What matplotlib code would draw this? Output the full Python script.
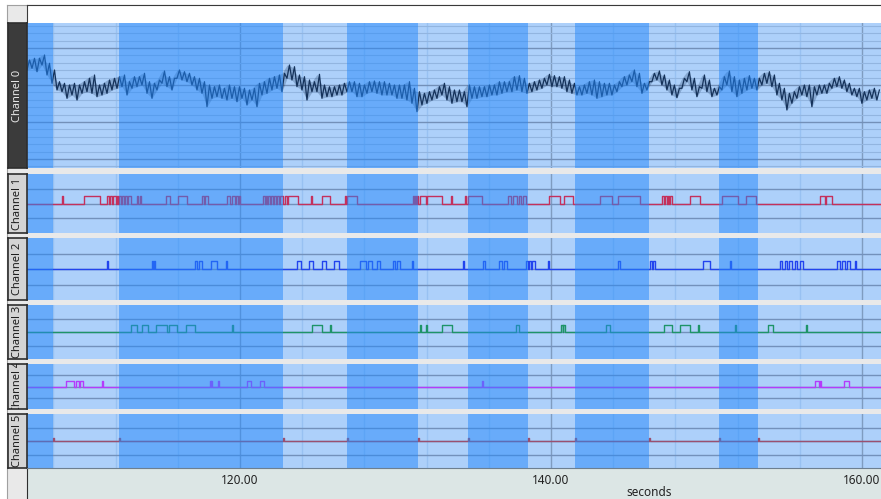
import numpy as np
import matplotlib
matplotlib.use("Agg")
import matplotlib.pyplot as plt
from matplotlib.ticker import MultipleLocator

plt.rcParams['font.family'] = ['Noto Sans', 'DejaVu Sans']

W, H = 881, 499   # output size in pixels

# ---- data -----------------------------------------------------------
t_view = (106.30, 161.22)          # visible time window, seconds

# channel 0: analog trace, min/max per display bin
c0_t0 = 106.30
c0_dt = 0.3215
c0_hi = [99, 100.7, 100.7, 104, 95.7, 89, 77.3, 75.7, 74, 75.7, 74, 77.3, 80.7, 84, 74, 75.7, 79, 80.7, 82.3, 84,
         77.3, 82.3, 82.3, 85.7, 77.3, 75.7, 79, 88, 82.3, 80.7, 89, 87.3, 85.7, 82.3, 80.7, 77.3, 74, 72.3, 74, 70.7,
         74, 72.3, 72.3, 70.7, 69, 70.7, 75.7, 77.3, 80.7, 82.3, 84, 85.7, 94, 92.3, 84, 82.3, 79, 77.3,
         84.7, 74, 72.3, 72.3, 74, 75.7, 77.3, 77.3, 75.7, 74, 77.3, 78, 77.3, 77.3, 75.7, 74, 74, 74, 77.3, 70.7,
         67.3, 65.7, 67.3, 69, 72.3, 75.7, 72.3, 69, 69, 67.3, 74, 72.3, 72.3, 72.3, 74, 74, 77.3, 77.3, 77.3, 82.3,
         83.3, 80.7, 75.7, 77.3, 79, 80.7, 84.7, 83.3, 82.3, 82.3, 79, 75.7, 72.3, 74, 77.3, 79, 77.3,
         75.7, 75.7, 74, 77.3, 82.3, 84, 89, 85.7, 75.7, 77.3, 85.7, 88, 84, 79, 74, 70.7, 80.7, 87.3, 80.7, 72.3,
         84, 79, 70.7, 72.3, 82.3, 88, 82.3, 79, 80.7, 83.3, 80.7, 80.7, 85.7, 87.3, 84, 75.7, 70.7, 65.7, 67.3, 72.3,
         74, 74, 72.3, 74, 74, 75.7, 80.7, 82.3, 79, 75.7, 70.7, 70.7, 67.3, 69, 70.7, 69]
c0_lo = [89, 90.7, 87.3, 94, 84, 75.7, 69, 67.3, 60.7, 64, 59, 65.7, 67.3, 65.7, 62.3, 64, 65.7, 69, 70.7, 72.3,
         64, 70.7, 72.3, 74, 65.7, 60.7, 69, 75.7, 72.3, 69, 80.7, 79, 77.3, 74, 69, 65.7, 52.3, 60.7, 62.3, 60.7,
         59, 60.7, 57.3, 60.7, 54, 59, 52.3, 64, 65.7, 69, 70.7, 67.3, 80.7, 79, 72.3, 69, 59, 67.3,
         67.3, 60.7, 62.3, 62.3, 64, 64, 67.3, 67.3, 62.3, 62.3, 65.7, 67.3, 65.7, 64, 64, 64, 60.7, 60.7, 59, 55.7,
         47.3, 54, 55.7, 59, 60.7, 64, 59, 55.7, 57.3, 57.3, 52.3, 60.7, 60.7, 62.3, 62.3, 64, 64, 65.7, 67.3, 67.3,
         69, 67.3, 65.7, 67.3, 69, 70.7, 74, 72.3, 72.3, 70.7, 67.3, 65.7, 64, 64, 65.7, 64, 60.7,
         62.3, 64, 64, 67.3, 72.3, 74, 77.3, 72.3, 65.7, 69, 77.3, 79, 74, 69, 64, 61.3, 70.7, 77.3, 69, 62.3,
         70.7, 67.3, 62.3, 64, 69, 74, 67.3, 62.3, 65.7, 69, 70.7, 69, 74, 75.7, 72.3, 64, 59, 49, 55.7, 60.7,
         64, 62.3, 52.3, 64, 65.7, 65.7, 70.7, 72.3, 70.7, 67.3, 64, 62.3, 55.7, 59, 60.7, 59]

# epoch markers (channel 5) and the selected (dark) epochs
epoch_marks = [107.97, 112.22, 122.77, 126.88, 131.45, 134.66, 138.52, 141.54, 146.30, 150.80, 153.31]
dark_epochs = [(105.0, 107.97), (112.22, 122.77), (126.88, 131.45), (134.66, 138.52),
               (141.54, 146.30), (150.80, 153.31)]

# event channels: (on, off) times in seconds
ch1_pulses = [(108.52, 108.59), (109.97, 111.00), (111.45, 111.58), (111.64, 111.77), (111.83, 112.03),
              (112.09, 112.15), (112.22, 112.35), (112.41, 112.54), (112.60, 112.73), (112.80, 112.99),
              (113.38, 113.44), (113.57, 113.63), (115.24, 115.50), (116.01, 116.59), (117.56, 117.69),
              (117.75, 117.94), (119.16, 119.36), (119.49, 119.68), (119.74, 119.87), (119.94, 120.00),
              (121.48, 121.61), (121.64, 121.74), (121.80, 121.93), (121.99, 122.12), (122.19, 122.32),
              (122.38, 122.51), (122.57, 122.77), (122.89, 123.02), (123.09, 123.73), (124.57, 124.63),
              (125.27, 125.79), (126.75, 126.81), (126.88, 127.52), (131.13, 131.19), (131.25, 131.32),
              (131.38, 131.45), (131.58, 131.96), (132.03, 132.99), (133.57, 133.61), (134.47, 134.51),
              (134.66, 135.57), (137.24, 137.43), (137.56, 137.81), (137.94, 138.07), (138.20, 138.39),
              (139.87, 140.58), (140.84, 141.42), (143.15, 143.92), (144.31, 145.72), (147.14, 147.27),
              (147.33, 147.46), (147.52, 147.59), (147.65, 147.78), (148.94, 149.58), (151.00, 152.03),
              (152.54, 153.18), (157.30, 157.62), (157.69, 158.07)]
ch2_pulses = [(111.45, 111.49), (114.34, 114.38), (114.47, 114.51), (117.11, 117.24), (117.36, 117.56),
              (118.14, 118.52), (119.10, 119.14), (123.67, 123.92), (124.44, 124.70), (125.27, 125.53),
              (126.05, 126.37), (127.72, 128.10), (128.23, 128.49), (128.81, 129.00), (129.84, 129.97),
              (130.10, 130.29), (131.06, 131.13), (134.34, 134.41), (135.63, 135.76), (136.66, 136.85),
              (136.98, 137.17), (138.39, 138.52), (138.59, 138.71), (138.78, 138.97), (139.81, 139.87),
              (144.31, 144.44), (146.37, 146.50), (146.56, 146.69), (149.77, 150.22), (151.51, 151.55),
              (154.73, 154.86), (155.05, 155.18), (155.31, 155.50), (155.69, 155.82), (156.01, 156.21),
              (158.39, 158.59), (158.71, 158.91), (159.04, 159.23), (159.55, 159.59)]
ch3_pulses = [(112.99, 113.38), (113.70, 114.08), (114.60, 115.31), (115.43, 115.95), (116.53, 117.11),
              (119.49, 119.53), (124.63, 125.27), (125.79, 125.83), (131.58, 131.62), (131.96, 132.00),
              (132.99, 133.63), (137.75, 137.94), (140.64, 140.77), (140.80, 140.90), (143.54, 143.79),
              (147.27, 147.78), (148.30, 148.94), (149.45, 149.49), (151.83, 151.87), (153.96, 154.28),
              (156.40, 156.44)]
ch4_pulses = [(108.81, 109.33), (109.45, 109.65), (109.70, 109.90), (111.13, 111.17), (118.07, 118.14),
              (118.16, 118.20), (118.59, 118.63), (120.45, 120.71), (121.29, 121.54), (135.57, 135.61),
              (156.98, 157.24), (157.30, 157.34), (158.84, 159.16)]

x_ticks = [120, 140, 160]
channel_names = ["Channel 0", "Channel 1", "Channel 2", "Channel 3", "Channel 4", "Channel 5"]

# ---- style ----------------------------------------------------------
light_bg = '#add0fa'
shade = '#2488fa'
trace_cols = ['#15325a', '#c4305c', '#2244ee', '#1e9468', '#b43cfa', '#9a5070']
panel_rows = [(23, 168), (174, 233), (238, 300), (305, 359), (364, 409), (414, 468)]

fig = plt.figure(figsize=(W / 100, H / 100), dpi=100)


def px_axes(x0, y0, x1, y1, **kw):
    ax = fig.add_axes([x0 / W, 1 - y1 / H, (x1 - x0) / W, (y1 - y0) / H], **kw)
    ax.set_xticks([])
    ax.set_yticks([])
    return ax


def steps(pulses, h=1.0):
    xs, ys = [t_view[0] - 1], [0]
    for a, b in pulses:
        xs += [a, a, b, b]
        ys += [0, h, h, 0]
    xs.append(t_view[1] + 1)
    ys.append(0)
    return xs, ys


# background / frame
bg = px_axes(7, 5, 881, 499, facecolor='#e9e9e9')
for s in ['right', 'bottom']:
    bg.spines[s].set_visible(False)
for s in ['left', 'top']:
    bg.spines[s].set_color('#a0a0a0')

top = px_axes(27, 5, 881, 23, facecolor='white')
for s in ['right', 'bottom']:
    top.spines[s].set_visible(False)
for s in ['left', 'top']:
    top.spines[s].set_color('#3a3a3a')

# channel 0 min/max bins, drawn as a jagged band
c0_t = c0_t0 + c0_dt * np.arange(len(c0_hi))
zz_t = np.column_stack([c0_t, c0_t + c0_dt / 2]).ravel()
zz_v = np.column_stack([c0_lo, c0_hi]).ravel()

event_data = [ch1_pulses, ch2_pulses, ch3_pulses, ch4_pulses]

for i, (y0, y1) in enumerate(panel_rows):
    ax = px_axes(27, y0, 881, y1, facecolor=light_bg)
    ax.set_xlim(*t_view)
    for s in ax.spines.values():
        s.set_visible(False)
    ax.set_axisbelow(True)
    ax.xaxis.set_major_locator(MultipleLocator(20))
    ax.xaxis.set_minor_locator(MultipleLocator(4))
    ax.grid(True, axis='x', which='major', color='#7f9cc0', lw=1.0)
    ax.grid(True, axis='x', which='minor', color='#98c1f2', lw=1.0)
    ax.tick_params(which='both', length=0, labelbottom=False, labelleft=False)

    if i == 0:
        ax.set_ylim(-9, 136)
        ax.yaxis.set_major_locator(MultipleLocator(37))
        ax.yaxis.set_minor_locator(MultipleLocator(7.4))
        ax.grid(True, axis='y', which='major', color='#7390b8', lw=1.0)
        ax.grid(True, axis='y', which='minor', color='#92b5e0', lw=0.8)
        ax.fill_between(c0_t, c0_lo, c0_hi, color=trace_cols[0], alpha=0.25, lw=0, zorder=2)
        ax.plot(zz_t, zz_v, color=trace_cols[0], lw=0.9, zorder=2)
    else:
        ax.set_ylim(-4, 4)
        ax.set_yticks([-2, 0, 2])
        ax.grid(True, axis='y', which='major', color='#7391bb', lw=1.0)
        if i < 5:
            xs, ys = steps(event_data[i - 1])
        else:
            xs, ys = steps([(m, m + 0.05) for m in epoch_marks], h=0.45)
        ax.plot(xs, ys, color=trace_cols[i], lw=1.0, zorder=2)

    for a, b in dark_epochs:
        ax.axvspan(a, b, color=shade, alpha=0.5, lw=0, zorder=3)

    # channel label box
    lab = px_axes(8, y0, 27, y1, facecolor='#3b3b3b' if i == 0 else '#d4d4d4')
    for s in lab.spines.values():
        s.set_color('#2e2e2e')
        s.set_linewidth(1.2)
    lab.text(0.5, 0.5, channel_names[i], rotation=90, ha='center', va='center',
             fontsize=8, color='#e6e6e6' if i == 0 else '#1e1e1e',
             transform=lab.transAxes, clip_on=True)

# time axis
xa = px_axes(27, 468, 881, 499, facecolor='#dce6e5')
xa.set_xlim(*t_view)
for s in ['right', 'bottom']:
    xa.spines[s].set_visible(False)
xa.spines['left'].set_color('#2e2e2e')
xa.spines['top'].set_color('#6d7f90')
xa.set_xticks(x_ticks)
xa.set_xticklabels(['%.2f' % v for v in x_ticks])
xa.tick_params(axis='x', length=0, top=False, bottom=False, labeltop=True, labelbottom=False,
               pad=-14, labelsize=8.5, labelcolor='#222222')
xa.set_xlabel('seconds', fontsize=8.5, color='#222222')
xa.xaxis.set_label_coords(0.728, 0.42)

fig.savefig('out.png', dpi=100)
